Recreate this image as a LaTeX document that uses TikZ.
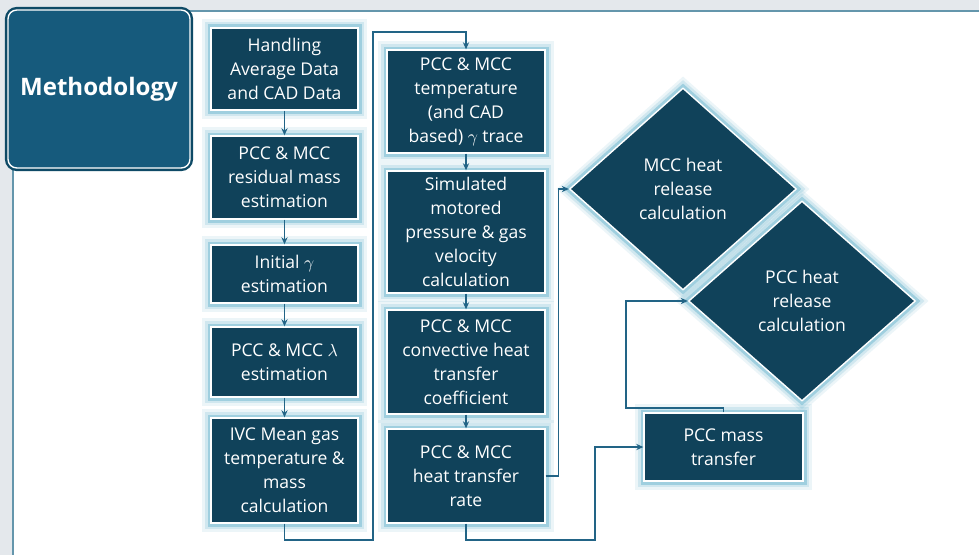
\documentclass[tikz,border=0pt]{standalone}
\usepackage{fontspec}
\setmainfont{Open Sans}
\usepackage{amsmath}
\usetikzlibrary{shapes.geometric, arrows.meta, positioning, calc}
\definecolor{mybox}{RGB}{16,66,90}
\definecolor{mytitle}{RGB}{22,90,124}
\definecolor{myedge}{RGB}{14,74,102}
\definecolor{myglow}{RGB}{100,178,204}
\definecolor{myline}{RGB}{34,100,134}
\definecolor{myframe}{RGB}{100,150,172}
\definecolor{mygray}{RGB}{228,232,236}
\tikzset{
  glow/.style={
    preaction={draw=myglow, line width=10pt, draw opacity=0.12},
    preaction={draw=myglow, line width=7pt, draw opacity=0.2},
    preaction={draw=myglow, line width=4pt, draw opacity=0.45}},
  block/.style={rectangle, draw=white, fill=mybox, text=white,
    align=center, inner sep=2pt, line width=0.8pt,
    font=\fontsize{10}{13.6}\selectfont, glow},
  decision/.style={diamond, draw=white, fill=mybox, text=white,
    align=center, inner sep=0pt, line width=0.8pt,
    font=\fontsize{10}{13.6}\selectfont, glow},
  arrow/.style={-{Stealth[length=4pt, width=3.5pt]}, line width=0.7pt, color=myline},
  line/.style={line width=0.7pt, color=myline}
}
\begin{document}
\begin{tikzpicture}[
  x=0.02cm, y=-0.02cm,
  title/.style={rectangle, rounded corners=5pt, draw=white, fill=mytitle, text=white,
    line width=0.8pt, preaction={draw=myedge, line width=3.5pt},
    minimum width=3.64cm, minimum height=3.16cm,
    font=\fontsize{13.7}{16}\selectfont\bfseries},
  leftcol/.style={block, minimum width=2.94cm},
  midcol/.style={block, minimum width=3.16cm}
]
% slide frame
\useasboundingbox (0,0) rectangle (979,555);
\fill[mygray] (0,0) rectangle (979,555);
\fill[white] (13,11) rectangle (979,555);
\draw[myframe, line width=1.2pt] (979,11) -- (13,11) -- (13,555);

\node[title] (method) at (99,89) {Methodology};

% first column
\node[leftcol, minimum height=1.64cm] (handling) at (284.5,69) {Handling\\Average Data\\and CAD Data};
\node[leftcol, minimum height=1.66cm] (residual) at (284.5,177.5) {PCC \& MCC\\residual mass\\estimation};
\node[leftcol, minimum height=1.16cm] (gamma) at (284.5,274) {Initial $\gamma$\\estimation};
\node[leftcol, minimum height=1.40cm] (lambda) at (284.5,362) {PCC \& MCC $\lambda$\\estimation};
\node[leftcol, minimum height=2.10cm] (ivc) at (284.5,470.5) {IVC Mean gas\\temperature \&\\mass\\calculation};

% second column
\node[midcol, minimum height=2.06cm] (trace) at (466,101.5) {PCC \& MCC\\temperature\\(and CAD\\based) $\gamma$ trace};
\node[midcol, minimum height=2.44cm] (motored) at (466,232) {Simulated\\motored\\pressure \& gas\\velocity\\calculation};
\node[midcol, minimum height=2.08cm] (convect) at (466,362) {PCC \& MCC\\convective heat\\transfer\\coefficient};
\node[midcol, minimum height=1.88cm] (htrate) at (466,476) {PCC \& MCC\\heat transfer\\rate};

% heat release and mass transfer
\node[decision, minimum width=4.54cm, minimum height=4.04cm] (mccrel) at (683,189) {MCC heat\\release\\calculation};
\node[decision, minimum width=4.54cm, minimum height=4.00cm] (pccrel) at (802,301) {PCC heat\\release\\calculation};
\node[block, minimum width=3.18cm, minimum height=1.36cm] (mass) at (723.5,447) {PCC mass\\transfer};

\draw[arrow] (handling) -- (residual);
\draw[arrow] (residual) -- (gamma);
\draw[arrow] (gamma) -- (lambda);
\draw[arrow] (lambda) -- (ivc);
\draw[arrow] (ivc.south) |- (373,540) -- (373,32) -| (trace.north);
\draw[arrow] (trace) -- (motored);
\draw[arrow] (motored) -- (convect);
\draw[arrow] (convect) -- (htrate);
\draw[arrow] (htrate.east) -- ++(13,0) |- (mccrel.west);
\draw[arrow] (htrate.south) |- (595,540) |- (mass.west);
\draw[arrow] (mass.north) |- (626,408) |- (pccrel.west);
\end{tikzpicture}
\end{document}
